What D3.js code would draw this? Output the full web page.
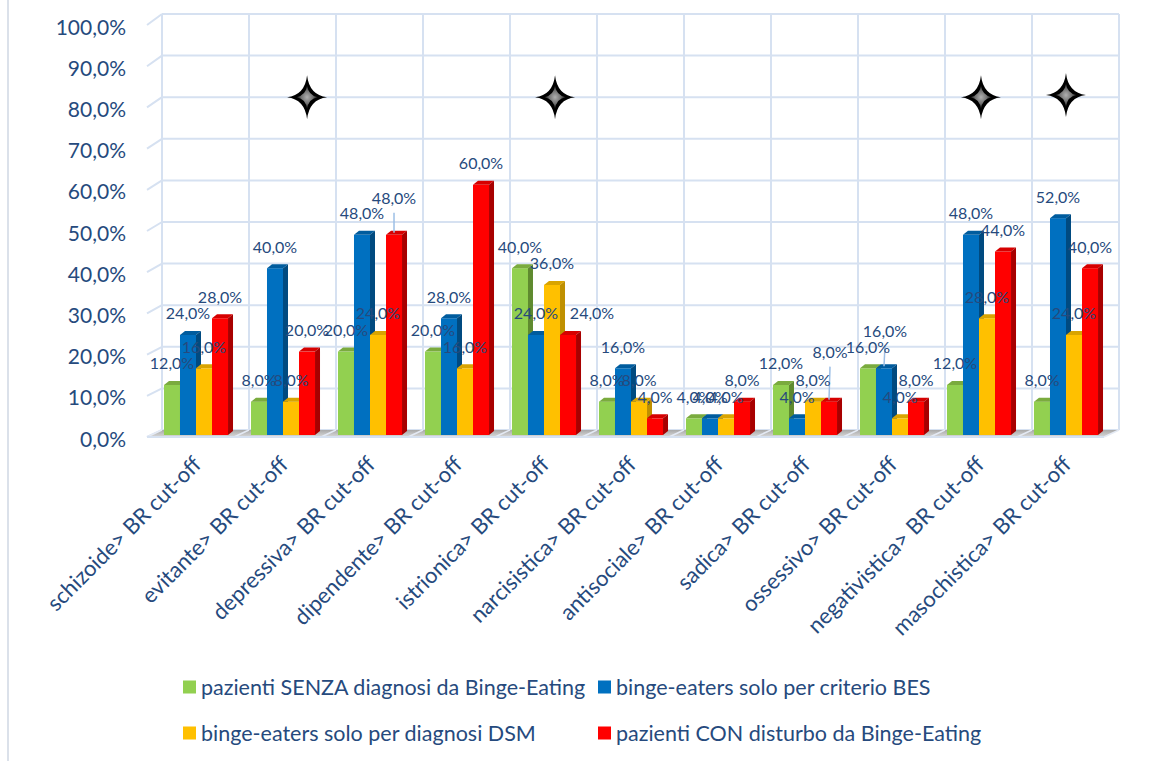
<!DOCTYPE html>
<html>
<head>
<meta charset="utf-8">
<script src="https://cdn.jsdelivr.net/npm/d3@7"></script>
<style>
  html, body { margin: 0; padding: 0; background: #ffffff; }
  svg { display: block; font-family: Lato, "Open Sans", sans-serif; }
</style>
</head>
<body>
<svg id="chart" width="1160" height="761"></svg>
<script>
// ---- data -------------------------------------------------------------
const categories = [
  "schizoide> BR cut-off", "evitante> BR cut-off", "depressiva> BR cut-off",
  "dipendente> BR cut-off", "istrionica> BR cut-off", "narcisistica> BR cut-off",
  "antisociale> BR cut-off", "sadica> BR cut-off", "ossessivo> BR cut-off",
  "negativistica> BR cut-off", "masochistica> BR cut-off"
];
const seriesNames = [
  "pazienti SENZA diagnosi da Binge-Eating",
  "binge-eaters solo per criterio BES",
  "binge-eaters solo per diagnosi DSM",
  "pazienti CON disturbo da Binge-Eating"
];
const senzaBE  = [0.12, 0.08, 0.20, 0.20, 0.40, 0.08, 0.04, 0.12, 0.16, 0.12, 0.08];
const soloBES  = [0.24, 0.40, 0.48, 0.28, 0.24, 0.16, 0.04, 0.04, 0.16, 0.48, 0.52];
const soloDSM  = [0.16, 0.08, 0.24, 0.16, 0.36, 0.08, 0.04, 0.08, 0.04, 0.28, 0.24];
const conBE    = [0.28, 0.20, 0.48, 0.60, 0.24, 0.04, 0.08, 0.08, 0.08, 0.44, 0.40];
const yTickValues = [0, 0.1, 0.2, 0.3, 0.4, 0.5, 0.6, 0.7, 0.8, 0.9, 1.0];

// categories flagged with a star (significant difference)
const starredCategories = [
  { cat: "evitante> BR cut-off",      shift: 0.34,  level: 0.80 },
  { cat: "istrionica> BR cut-off",    shift: 0.19,  level: 0.80 },
  { cat: "negativistica> BR cut-off", shift: 0.086, level: 0.80 },
  { cat: "masochistica> BR cut-off",  shift: 0.063, level: 0.805 }
];

// data labels that were moved away from their bar (some with a leader line)
const labelNudges = [
  { cat: "depressiva> BR cut-off", series: 3, dx: 0,  dy: -15, leader: true },
  { cat: "istrionica> BR cut-off", series: 3, dx: 24, dy: 0,   leader: false },
  { cat: "sadica> BR cut-off",     series: 3, dx: 1,  dy: -28, leader: true },
  { cat: "ossessivo> BR cut-off",  series: 1, dx: 1,  dy: -16, leader: true }
];

// ---- styling ----------------------------------------------------------
const palette = [
  { front: "#92D050", top: "#7aab3e", side: "#5f8a2f" },
  { front: "#0070C0", top: "#005c9e", side: "#004a80" },
  { front: "#FFC000", top: "#d9a400", side: "#bf9000" },
  { front: "#FF0000", top: "#d60000", side: "#a80000" }
];
const textColor = "#264a7d";
const gridColor = "#d6e1f1";

const seriesValues = [senzaBE, soloBES, soloDSM, conBE];
const rows = categories.map((c, i) => ({
  cat: c,
  values: seriesValues.map((arr, s) => ({ cat: c, s, v: arr[i] }))
}));

const pct = d3.formatLocale({ decimal: ",", thousands: ".", grouping: [3], currency: ["€", ""] })
  .format(".1%");

const svg = d3.select("#chart");

// ---- 3D-ish geometry: front plane, back wall and the bars in between ----
const depth = { dx: 15, dy: -7 };   // front -> back wall shift
const barDepth = { dx: 5, dy: -4 }; // depth of each bar box

const xFront = d3.scaleBand().domain(categories).range([147, 147 + 87 * categories.length]);
const yFront = d3.scaleLinear().domain([0, 1]).range([437, 25]);
const yBack  = d3.scaleLinear().domain([0, 1]).range([430, 14]);
const yBar   = d3.scaleLinear().domain([0, 1]).range([435, 18]);

const xBar = d3.scaleBand().domain(categories)
  .range([152.5, 152.5 + 87 * categories.length])
  .paddingInner(0.264).paddingOuter(0.132);
const xSeries = d3.scaleBand().domain(d3.range(seriesNames.length)).range([0, xBar.bandwidth()]);

const backLeft = xFront.range()[0] + depth.dx;
const backRight = xFront.range()[1] + depth.dx;

// floor
const defs = svg.append("defs");
const floorGrad = defs.append("linearGradient").attr("id", "floorGrad")
  .attr("x1", 0).attr("y1", 0).attr("x2", 0).attr("y2", 1);
floorGrad.append("stop").attr("offset", "0%").attr("stop-color", "#a8a8a8");
floorGrad.append("stop").attr("offset", "100%").attr("stop-color", "#d9d9d9");

const starGrad = defs.append("radialGradient").attr("id", "starGrad");
starGrad.append("stop").attr("offset", "0%").attr("stop-color", "#b0b0b0");
starGrad.append("stop").attr("offset", "55%").attr("stop-color", "#6e6e6e");
starGrad.append("stop").attr("offset", "100%").attr("stop-color", "#000000");

// left border of the chart frame
svg.append("line")
  .attr("x1", 8).attr("x2", 8).attr("y1", 0).attr("y2", 761)
  .attr("stroke", "#dbe1ea").attr("stroke-width", 2);

const gWall = svg.append("g");

// horizontal gridlines on the back wall
gWall.selectAll("line.h").data(yTickValues).join("line")
  .attr("x1", backLeft).attr("x2", backRight)
  .attr("y1", d => yBack(d)).attr("y2", d => yBack(d))
  .attr("stroke", gridColor).attr("stroke-width", 2);

// vertical category dividers on the back wall
const boundaries = categories.map(c => xFront(c)).concat([xFront.range()[1]]);
gWall.selectAll("line.v").data(boundaries).join("line")
  .attr("x1", d => d + depth.dx).attr("x2", d => d + depth.dx)
  .attr("y1", yBack(1)).attr("y2", yBack(0))
  .attr("stroke", gridColor).attr("stroke-width", 2);

// slanted value ticks on the left side
gWall.selectAll("line.tick").data(yTickValues).join("line")
  .attr("x1", xFront.range()[0]).attr("y1", d => yFront(d))
  .attr("x2", backLeft).attr("y2", d => yBack(d))
  .attr("stroke", gridColor).attr("stroke-width", 2);

// floor slab
gWall.append("polygon")
  .attr("points", [
    [xFront.range()[0], yFront(0)], [xFront.range()[1], yFront(0)],
    [backRight, yBack(0)], [backLeft, yBack(0)]
  ].map(p => p.join(",")).join(" "))
  .attr("fill", "url(#floorGrad)");
gWall.selectAll("line.fl").data(boundaries).join("line")
  .attr("x1", d => d).attr("y1", yFront(0))
  .attr("x2", d => d + depth.dx).attr("y2", yBack(0))
  .attr("stroke", "#e4eaf4").attr("stroke-width", 1.5);
gWall.append("line")
  .attr("x1", xFront.range()[0]).attr("x2", xFront.range()[1])
  .attr("y1", yFront(0)).attr("y2", yFront(0))
  .attr("stroke", gridColor).attr("stroke-width", 2);

// y axis labels
svg.append("g").selectAll("text").data(yTickValues).join("text")
  .attr("x", 126).attr("y", d => yFront(d) + 1)
  .attr("text-anchor", "end").attr("dominant-baseline", "central")
  .attr("font-size", 21).attr("fill", textColor)
  .text(d => pct(d));

// ---- bars ---------------------------------------------------------------
const gBars = svg.append("g");
const groups = gBars.selectAll("g.cat").data(rows).join("g")
  .attr("transform", d => `translate(${xBar(d.cat)},0)`);

const bar = groups.selectAll("g.bar").data(d => d.values).join("g");
const w = xSeries.bandwidth();
bar.each(function (d) {
  const g = d3.select(this);
  const x = xSeries(d.s), y0 = yBar(0), y1 = yBar(d.v);
  const c = palette[d.s];
  g.append("rect").attr("x", x).attr("y", y1).attr("width", w).attr("height", y0 - y1)
    .attr("fill", c.front);
  g.append("polygon").attr("points", [
      [x, y1], [x + w, y1], [x + w + barDepth.dx, y1 + barDepth.dy], [x + barDepth.dx, y1 + barDepth.dy]
    ].map(p => p.join(",")).join(" "))
    .attr("fill", c.top);
  g.append("polygon").attr("points", [
      [x + w, y1], [x + w + barDepth.dx, y1 + barDepth.dy],
      [x + w + barDepth.dx, y0 + barDepth.dy], [x + w, y0]
    ].map(p => p.join(",")).join(" "))
    .attr("fill", c.side);
});

// ---- data labels ---------------------------------------------------------
const labelData = rows.flatMap(r => r.values).map(d => {
  const n = labelNudges.find(k => k.cat === d.cat && k.series === d.s);
  const cx = xBar(d.cat) + xSeries(d.s) + w / 2;
  const cy = yBar(d.v) - 22;
  return { ...d, cx, top: yBar(d.v), x: cx + (n ? n.dx : 0), y: cy + (n ? n.dy : 0), leader: n && n.leader };
});

svg.append("g").selectAll("line").data(labelData.filter(d => d.leader)).join("line")
  .attr("x1", d => d.x).attr("y1", d => d.y + 15)
  .attr("x2", d => d.cx).attr("y2", d => d.top - 2)
  .attr("stroke", "#9dbfe6").attr("stroke-width", 1.5);

svg.append("g").selectAll("text").data(labelData).join("text")
  .attr("x", d => d.x).attr("y", d => d.y)
  .attr("text-anchor", "middle").attr("dominant-baseline", "central")
  .attr("font-size", 16).attr("fill", textColor)
  .text(d => pct(d.v));

// ---- stars ----------------------------------------------------------------
const starPath = "M0,-22 Q2.2,-2.2 20,0 Q2.2,2.2 0,22 Q-2.2,2.2 -20,0 Q-2.2,-2.2 0,-22 Z";
const stars = svg.append("g").selectAll("g").data(starredCategories).join("g")
  .attr("transform", d => `translate(${xFront(d.cat) + xFront.bandwidth() / 2 + d.shift * xFront.step()},${yBack(d.level)})`);
stars.append("path").attr("d", starPath).attr("fill", "#000");
stars.append("path").attr("d", starPath).attr("fill", "url(#starGrad)")
  .attr("transform", "scale(0.55)");

// ---- category labels ---------------------------------------------------------
svg.append("g").selectAll("text").data(categories).join("text")
  .attr("transform", d => `translate(${xFront(d) + xFront.bandwidth() / 2 + 12},466) rotate(-45)`)
  .attr("text-anchor", "end")
  .attr("font-size", 22).attr("fill", textColor)
  .text(d => d);

// ---- legend ------------------------------------------------------------------
const legendPos = [
  { col: 0, row: 0 }, { col: 1, row: 0 }, { col: 0, row: 1 }, { col: 1, row: 1 }
];
const legendX = d3.scaleOrdinal().domain([0, 1]).range([183, 598]);
const legendY = d3.scaleOrdinal().domain([0, 1]).range([687, 733]);
const leg = svg.append("g").selectAll("g").data(seriesNames).join("g")
  .attr("transform", (d, i) => `translate(${legendX(legendPos[i].col)},${legendY(legendPos[i].row)})`);
leg.append("rect").attr("x", 0).attr("y", -6.5).attr("width", 13).attr("height", 13)
  .attr("fill", (d, i) => palette[i].front);
leg.append("text").attr("x", 18).attr("y", 0).attr("dominant-baseline", "central")
  .attr("font-size", 21.5).attr("fill", textColor)
  .text(d => d);
</script>
</body>
</html>
